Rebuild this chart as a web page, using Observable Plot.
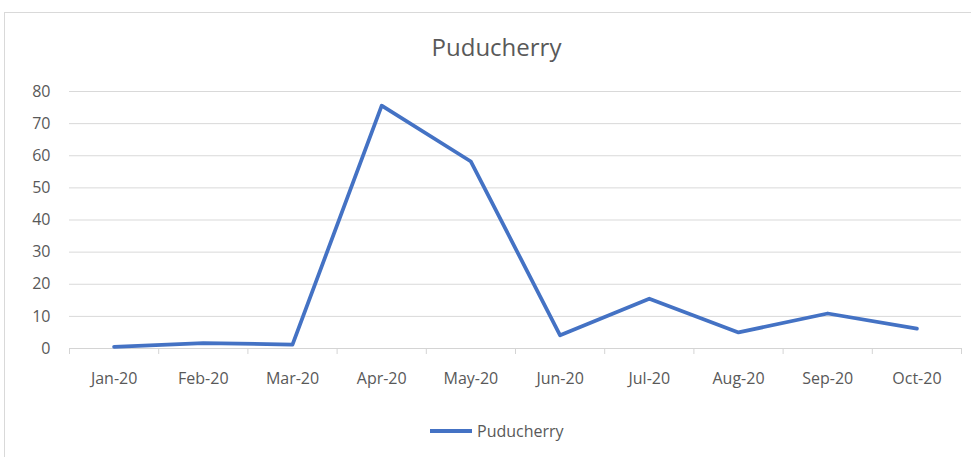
<!DOCTYPE html>
<html>
<head>
<meta charset="utf-8">
<script src="https://cdn.jsdelivr.net/npm/d3@7"></script>
<script src="https://cdn.jsdelivr.net/npm/@observablehq/plot@0.6"></script>
<style>
  html, body { margin: 0; padding: 0; background: #fff; overflow: hidden; }
  #wrap { position: relative; width: 971px; height: 457px; overflow: hidden; font-family: "Open Sans", sans-serif; color: #595959; }
  #frame { position: absolute; left: 4px; top: 12px; width: 1000px; height: 500px; border: 1.5px solid #d9d9d9; box-sizing: border-box; }
  #title { position: absolute; left: 0; width: 993px; top: 31px; text-align: center; font-size: 24px; line-height: 32px; color: #595959; }
  #legend { position: absolute; left: 430px; top: 420px; height: 22px; display: flex; align-items: center; font-size: 16px; color: #595959; }
  #legend .sw { width: 42px; height: 3.75px; background: #4472C4; margin-right: 5px; }
  #chart { position: absolute; left: 0; top: 0; }
</style>
</head>
<body>
<div id="wrap">
  <div id="frame"></div>
  <div id="chart"></div>
  <div id="title">Puducherry</div>
  <div id="legend"><div class="sw"></div><span>Puducherry</span></div>
</div>
<script>
const months = ["Jan-20", "Feb-20", "Mar-20", "Apr-20", "May-20", "Jun-20", "Jul-20", "Aug-20", "Sep-20", "Oct-20"];
const values = [0.5, 1.7, 1.2, 75.6, 58.2, 4.1, 15.5, 5.0, 10.9, 6.2];
const yTicks = [0, 10, 20, 30, 40, 50, 60, 70, 80];

const data = months.map((m, i) => ({i, month: m, value: values[i]}));
const catTicks = months.map((m, i) => i);
const boundaryTicks = d3.range(0, months.length + 1).map(k => k - 0.5);

const chart = Plot.plot({
  width: 971,
  height: 457,
  marginLeft: 69,
  marginRight: 10,
  marginTop: 91,
  marginBottom: 109,
  style: {fontFamily: "'Open Sans', sans-serif", fontSize: "16px", color: "#595959", background: "transparent"},
  x: {type: "linear", domain: [-0.5, months.length - 0.5]},
  y: {domain: [0, 80]},
  marks: [
    Plot.gridY(yTicks, {stroke: "#d9d9d9", strokeOpacity: 1, strokeWidth: 1}),
    Plot.ruleY([0], {stroke: "#d4d4d4", strokeWidth: 1}),
    Plot.axisX({ticks: boundaryTicks, tickSize: 6, tickFormat: () => "", stroke: "#d4d4d4", label: null}),
    Plot.axisX({ticks: catTicks, tickSize: 0, tickPadding: 24, tickFormat: i => months[i], label: null, fill: "#595959", fontSize: 16}),
    Plot.axisY({ticks: yTicks, tickSize: 0, tickPadding: 19, label: null, fill: "#595959", fontSize: 16}),
    Plot.line(data, {x: "i", y: "value", stroke: "#4472C4", strokeWidth: 3.75, strokeLinejoin: "round", strokeLinecap: "round"})
  ]
});
document.getElementById("chart").appendChild(chart);
</script>
</body>
</html>
